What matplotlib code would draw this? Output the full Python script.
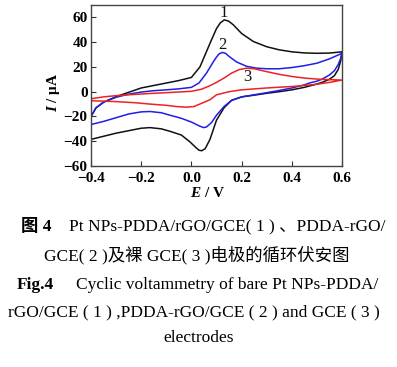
import matplotlib
matplotlib.use("Agg")
import matplotlib.pyplot as plt

# curve 1: Pt NPs-PDDA/rGO/GCE (black), forward scan then reverse scan
e1_fwd = [-0.40, -0.38, -0.35, -0.30, -0.25, -0.20, -0.15, -0.10, -0.05, 0.00,
          0.034, 0.074, 0.10, 0.115, 0.131, 0.148, 0.167, 0.20, 0.247, 0.30,
          0.35, 0.40, 0.45, 0.50, 0.55, 0.60]
i1_fwd = [-20, -13, -8.5, -4, -0.5, 3, 5, 7, 9, 11.5,
          20, 39, 51, 55.5, 58, 57, 54, 47, 40.5, 36.3,
          33.8, 32.2, 31.3, 31, 31.2, 32.2]
e1_rev = [0.60, 0.595, 0.585, 0.57, 0.55, 0.52, 0.50, 0.45, 0.40, 0.35,
          0.30, 0.25, 0.20, 0.16, 0.13, 0.10, 0.074, 0.055, 0.041, 0.03,
          0.02, -0.006, -0.04, -0.085, -0.12, -0.165, -0.20, -0.25, -0.30, -0.35,
          -0.40]
i1_rev = [32.2, 25, 18, 13, 10, 7.5, 6.2, 3.5, 1.5, 0,
          -1.3, -2.8, -4.2, -7, -13, -23, -38.5, -46, -47.7, -47.2,
          -45.5, -40.5, -35, -32, -30, -29, -29.5, -31.5, -33.5, -36,
          -38.5]

# curve 2: PDDA-rGO/GCE (blue)
e2_fwd = [-0.40, -0.38, -0.35, -0.30, -0.25, -0.20, -0.15, -0.10, -0.05, 0.00,
          0.03, 0.06, 0.087, 0.10, 0.11, 0.123, 0.136, 0.15, 0.18, 0.22,
          0.26, 0.30, 0.35, 0.40, 0.45, 0.50, 0.55, 0.60]
i2_fwd = [-20, -13, -8.5, -4.5, -2, -0.3, 0.8, 1.5, 2.3, 3.5,
          7, 15, 24, 28, 30.5, 31.7, 31, 28.5, 24, 20.5,
          19, 18.5, 18.5, 19.5, 21, 23, 26.5, 31]
e2_rev = [0.60, 0.595, 0.585, 0.57, 0.55, 0.52, 0.50, 0.47, 0.45, 0.40,
          0.35, 0.30, 0.25, 0.20, 0.16, 0.13, 0.10, 0.08, 0.06, 0.048,
          0.03, 0.00, -0.04, -0.085, -0.12, -0.165, -0.20, -0.25, -0.30, -0.35,
          -0.40]
i2_rev = [31, 27, 22, 17, 13.5, 10, 8.5, 7, 5.5, 3,
          1, -0.8, -2.5, -4.2, -7, -12, -19, -25, -28.5, -29,
          -27.5, -24.5, -21.5, -19, -17, -16, -16.3, -18, -21, -24,
          -26.5]

# curve 3: bare GCE (red)
e3_fwd = [-0.40, -0.35, -0.30, -0.225, -0.15, -0.10, 0.00, 0.04, 0.07, 0.10,
          0.13, 0.16, 0.19, 0.22, 0.25, 0.30, 0.35, 0.40, 0.45, 0.50, 0.55, 0.60]
i3_fwd = [-5.7, -4.2, -3.2, -2.2, -1.3, -0.8, 0.3, 2, 4.5, 7.5,
          11, 15, 17.8, 19, 18.5, 16.2, 14, 12.3, 11, 10.2, 9.7, 9.4]
e3_rev = [0.60, 0.55, 0.50, 0.45, 0.40, 0.30, 0.20, 0.15, 0.10, 0.074,
          0.03, 0.01, -0.02, -0.06, -0.10, -0.165, -0.225, -0.30, -0.40]
i3_rev = [9.4, 7.5, 6, 5, 4.2, 3, 1.5, 0, -2.5, -6.5,
          -10.3, -12, -12.5, -12, -11, -10, -8.9, -8, -7.3]

curve_labels = ["1", "2", "3"]
label_e = [0.127, 0.125, 0.223]
label_i = [63.7, 37.6, 12.1]

x_ticks = [-0.4, -0.2, 0.0, 0.2, 0.4, 0.6]
y_ticks = [-60, -40, -20, 0, 20, 40, 60]

SERIF = "Liberation Serif"
CJK = ["Liberation Serif", "Noto Sans CJK SC"]

plt.rcParams["font.family"] = SERIF
plt.rcParams["mathtext.fontset"] = "custom"
plt.rcParams["mathtext.it"] = "Liberation Serif:italic:bold"
plt.rcParams["mathtext.rm"] = "Liberation Serif:bold"

W, H = 397, 367
fig = plt.figure(figsize=(W / 100, H / 100), dpi=100)
ax = fig.add_axes([91 / W, 1 - 166 / H, (342 - 91) / W, (166 - 5) / H])

lw = 1.1
ax.plot(e1_fwd + e1_rev, i1_fwd + i1_rev, color="#111111", lw=lw)
ax.plot(e2_fwd + e2_rev, i2_fwd + i2_rev, color="#1f1fe6", lw=lw)
ax.plot(e3_fwd + e3_rev, i3_fwd + i3_rev, color="#ee2222", lw=lw)

for lab, x, y in zip(curve_labels, label_e, label_i):
    ax.text(x, y, lab, fontsize=12, ha="center", va="center", color="#111111")

ax.set_xlim(-0.4, 0.6)
ax.set_ylim(-60, 70)
ax.set_xticks(x_ticks)
ax.set_yticks(y_ticks)
ax.set_xticklabels([f"{v:.1f}".replace("-", "\u2212") for v in x_ticks])
ax.set_yticklabels([f"{v}".replace("-", "\u2212") for v in y_ticks])
ax.tick_params(direction="in", length=3.5, width=0.8, labelsize=11, pad=2.5,
               color="#333333")
ax.tick_params(axis="x", pad=4)
for lbl in ax.get_xticklabels() + ax.get_yticklabels():
    lbl.set_fontweight("bold")
for sp in ax.spines.values():
    sp.set_color("#444444")
    sp.set_linewidth(1.0)

ax.set_xlabel(r"$E$ / V", fontsize=11, fontweight="bold")
ax.xaxis.set_label_coords((207 - 91) / 251, (166 - 193) / 161)
ax.xaxis.label.set_va("center")
ax.set_ylabel(r"$I$ / μA", fontsize=11, fontweight="bold")
ax.yaxis.set_label_coords((53 - 91) / 251, (166 - 92) / 161)
ax.yaxis.label.set_va("center")

# caption
def ftext(px, py, s, **kw):
    fig.text(px / W, 1 - py / H, s, va="center", family=CJK, **kw)

ftext(21, 227, "图 4", fontsize=12.5, fontweight="bold", ha="left")
ftext(69, 227, "Pt NPs-PDDA/rGO/GCE( 1 ) 、PDDA-rGO/", fontsize=12.5, ha="left")
ftext(44, 255, "GCE( 2 )及裸 GCE( 3 )电极的循环伏安图", fontsize=12.5, ha="left")
ftext(17, 285, "Fig.4", fontsize=12.5, fontweight="bold", ha="left")
ftext(76, 285, "Cyclic voltammetry of bare Pt NPs-PDDA/", fontsize=12.5, ha="left")
ftext(8, 312, "rGO/GCE ( 1 ) ,PDDA-rGO/GCE ( 2 ) and GCE ( 3 )", fontsize=12.5,
      ha="left")
ftext(199, 338, "electrodes", fontsize=12.5, ha="center")

fig.savefig("out.png", dpi=100)
